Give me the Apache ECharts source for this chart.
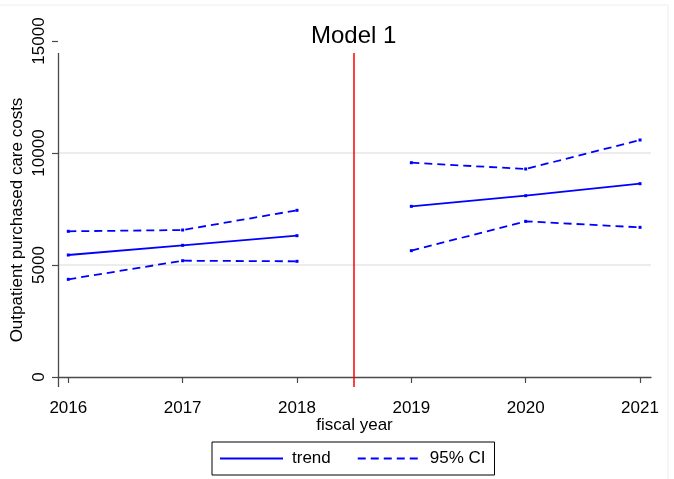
<!DOCTYPE html>
<html>
<head>
<meta charset="utf-8">
<title>Model 1</title>
<script src="https://cdn.jsdelivr.net/npm/echarts@6/dist/echarts.min.js"></script>
<style>
  html, body { margin: 0; padding: 0; background: #ffffff; }
  #chart { width: 674px; height: 479px; }
</style>
</head>
<body>
<div id="chart"></div>
<script>
// Fiscal years and the modelled outpatient purchased care costs
const years = [2016, 2017, 2018, 2019, 2020, 2021];
const trend = [5446, 5879, 6308, 7619, 8094, 8630];
const ciUpper = [6504, 6562, 7442, 9567, 9286, 10580];
const ciLower = [4361, 5192, 5165, 5640, 6949, 6681];

// Intervention point between the two periods
const cutoff = 2018.5;

// Axis ticks
const xTicks = [2016, 2017, 2018, 2019, 2020, 2021];
const yTicks = [0, 5000, 10000, 15000];

// Axis extents (value units)
const xMin = 2015.91, xMax = 2021.096;
const yMin = -446, yMax = 15000, plotTop = 14464;

const FONT = '"Liberation Sans", Arial, Helvetica, sans-serif';
const BLUE = '#0000ff';

// Split a series into the periods before and after the cutoff
function period(values, before) {
  const out = [];
  years.forEach((yr, i) => {
    if ((yr < cutoff) === before) out.push([yr, values[i]]);
  });
  return out;
}

function lineSeries(name, values, before, dashed) {
  return {
    name: name,
    type: 'line',
    data: period(values, before),
    symbol: 'rect',
    symbolSize: 3,
    showSymbol: true,
    itemStyle: { color: BLUE },
    lineStyle: { color: BLUE, width: 1.8, type: dashed ? [8, 5] : 'solid' },
    emphasis: { disabled: true },
    animation: false,
    z: 5
  };
}

const chart = echarts.init(document.getElementById('chart'), null, { renderer: 'canvas' });

chart.setOption({
  backgroundColor: '#ffffff',
  animation: false,
  textStyle: { fontFamily: FONT },
  title: {
    text: 'Model 1',
    left: 311,
    top: 24,
    padding: 0,
    textStyle: { fontFamily: FONT, fontSize: 24, fontWeight: 'normal', color: '#000000' }
  },
  graphic: [{
    type: 'rect',
    silent: true,
    shape: { x: -2, y: 5, width: 670, height: 480 },
    style: { fill: 'none', stroke: '#ededed', lineWidth: 1 }
  }],
  grid: { left: 58, right: 23, top: 41, bottom: 92, containLabel: false, outerBoundsMode: 'none' },
  legend: {
    data: ['trend', '95% CI'],
    left: 212,
    top: 442,
    orient: 'horizontal',
    itemWidth: 63,
    itemHeight: 14,
    itemGap: 26,
    padding: [8, 9, 8, 7],
    borderColor: '#000000',
    borderWidth: 1,
    borderRadius: 0,
    selectedMode: false,
    itemStyle: { opacity: 0 },
    textStyle: { fontFamily: FONT, fontSize: 17, color: '#000000', padding: [0, 0, 0, 4] }
  },
  xAxis: {
    type: 'value',
    min: xMin,
    max: xMax,
    name: 'fiscal year',
    nameLocation: 'middle',
    nameGap: 30,
    nameMoveOverlap: false,
    nameTextStyle: { fontFamily: FONT, fontSize: 17, color: '#000000' },
    axisLine: { show: true, lineStyle: { color: '#4a4a4a', width: 1.3 } },
    axisTick: { show: true, length: 6, customValues: xTicks, lineStyle: { color: '#4a4a4a', width: 1.2 } },
    axisLabel: {
      customValues: xTicks,
      margin: 13,
      fontFamily: FONT, fontSize: 17, color: '#000000',
      formatter: v => String(v)
    },
    splitLine: { show: false }
  },
  yAxis: {
    type: 'value',
    min: yMin,
    max: yMax,
    name: 'Outpatient purchased care costs',
    nameLocation: 'middle',
    nameGap: 32,
    nameMoveOverlap: false,
    nameTextStyle: { fontFamily: FONT, fontSize: 17, color: '#000000', padding: [0, 12, 0, 0] },
    axisLine: { show: false },
    axisTick: { show: true, length: 6, customValues: yTicks, lineStyle: { color: '#4a4a4a', width: 1.2 } },
    axisLabel: {
      customValues: yTicks,
      rotate: 90,
      margin: 10,
      fontFamily: FONT, fontSize: 17, color: '#000000',
      formatter: v => String(v)
    },
    splitLine: { show: false }
  },
  series: [
    // Frame pieces: horizontal gridlines, left axis line, cutoff marker
    {
      type: 'line',
      data: [],
      silent: true,
      clip: false,
      animation: false,
      markLine: {
        silent: true,
        symbol: 'none',
        label: { show: false },
        animation: false,
        data: [
          ...yTicks.slice(1, -1).map(v => ({ yAxis: v, lineStyle: { color: '#e6e6e6', width: 1.5, type: 'solid' } })),
          [
            { coord: [xMin, yMin], lineStyle: { color: '#4a4a4a', width: 1.3, type: 'solid' } },
            { coord: [xMin, plotTop] }
          ],
          [
            { coord: [cutoff, yMin], lineStyle: { color: '#ff0000', width: 1.5, type: 'solid' } },
            { coord: [cutoff, plotTop] }
          ]
        ]
      },
      z: 1
    },
    lineSeries('trend', trend, true, false),
    lineSeries('trend', trend, false, false),
    lineSeries('95% CI', ciUpper, true, true),
    lineSeries('95% CI', ciUpper, false, true),
    lineSeries('95% CI', ciLower, true, true),
    lineSeries('95% CI', ciLower, false, true)
  ]
});
</script>
</body>
</html>
